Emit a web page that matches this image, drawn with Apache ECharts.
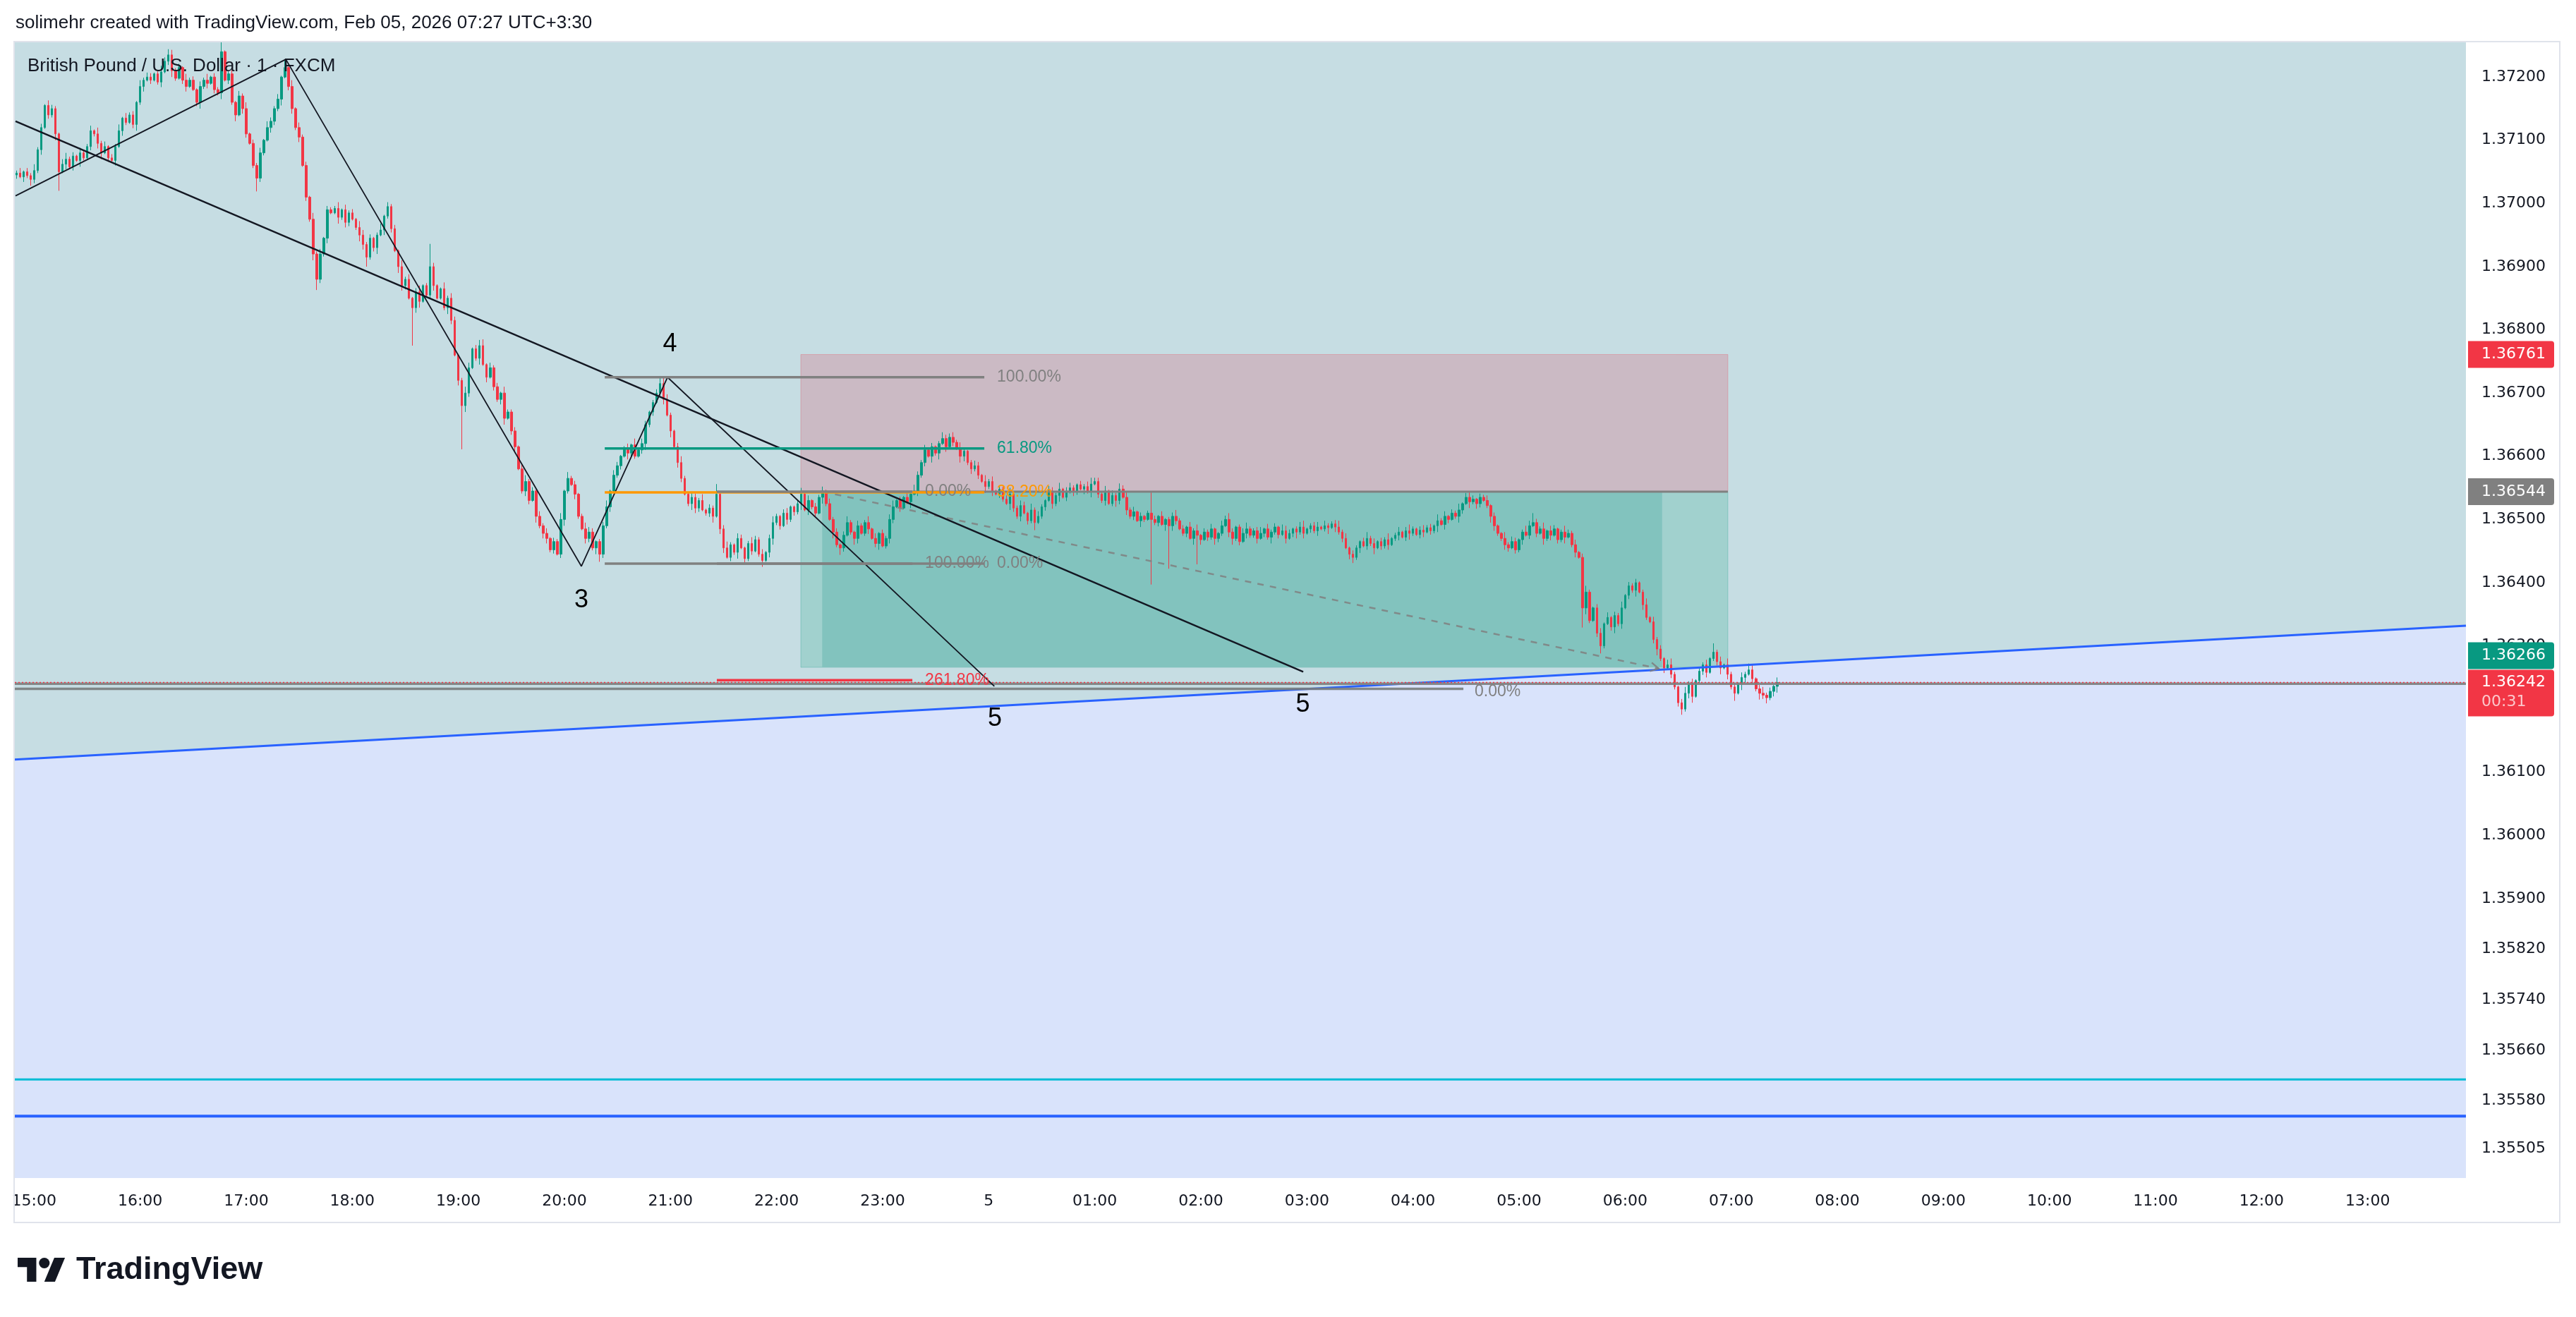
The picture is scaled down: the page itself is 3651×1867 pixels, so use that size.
<!DOCTYPE html>
<html>
<head>
<meta charset="utf-8">
<title>GBPUSD 1m</title>
<script src="https://cdn.jsdelivr.net/npm/echarts@6/dist/echarts.min.js"></script>
<style>
html,body{margin:0;padding:0;background:#ffffff;}
#chart{width:3651px;height:1867px;}
</style>
</head>
<body>
<div id="chart"></div>
<script>
// ================= DATA =================
// time: minutes after Feb 4 15:00 (UTC+3:30); candle prices in 0.00001 above 1.36000
const priceBase = 1.36;
const priceUnit = 0.00001;
const candleStartMinute = -10;
const candleStepMinutes = 2;
const firstOpen = 1045;
const closes = [
1048,1042,1050,1044,1038,1052,1085,1120,1155,1140,
1150,1110,1050,1062,1070,1058,1075,1068,1080,1072,
1090,1115,1110,1095,1080,1090,1072,1068,1090,1115,
1135,1128,1140,1125,1160,1185,1195,1200,1195,1205,
1192,1208,1225,1235,1210,1198,1215,1195,1185,1195,
1180,1160,1185,1195,1190,1200,1180,1175,1240,1195,
1205,1160,1140,1170,1150,1110,1095,1060,1040,1080,
1100,1120,1130,1150,1165,1200,1215,1185,1150,1120,
1105,1060,1010,975,920,880,920,945,990,985,
992,978,990,970,985,975,962,950,935,915,
945,930,950,958,980,995,960,925,900,870,
880,850,835,860,845,870,855,900,870,850,
865,835,850,815,760,720,680,700,740,770,
755,775,745,725,740,710,690,700,660,670,
640,615,580,545,560,530,545,505,490,478,
470,452,465,445,500,545,565,555,540,505,
485,470,480,455,465,445,490,520,545,570,
585,600,612,605,618,600,610,620,650,670,
685,700,715,690,665,640,615,590,565,540,
525,535,518,530,515,510,518,505,540,485,
455,440,460,448,470,455,438,462,450,468,
445,435,448,470,495,505,490,510,500,520,
512,525,540,515,530,520,510,535,545,525,
500,480,460,455,475,495,480,470,490,478,
495,485,470,462,478,458,470,500,520,530,
518,535,528,540,545,570,590,610,600,615,
605,620,628,615,630,622,612,600,608,590,
580,585,570,560,552,560,545,540,548,532,
525,540,518,505,522,510,498,515,495,505,
520,530,545,525,538,548,535,545,550,545,
555,548,552,545,556,560,540,530,545,525,
538,530,548,535,515,505,512,498,505,500,
510,500,495,505,492,500,490,505,498,485,
478,488,470,482,475,468,480,472,485,470,
478,490,500,480,470,488,465,478,485,475,
482,470,478,485,472,480,488,476,482,470,
478,485,480,488,478,485,490,482,488,485,
490,487,493,488,480,470,455,445,440,455,
465,458,470,462,455,465,458,468,460,470,
475,480,472,482,478,485,476,483,480,487,
482,490,498,492,505,500,510,505,515,525,
535,528,532,525,535,530,522,505,490,478,
470,460,455,465,452,468,480,475,490,495,
478,485,470,482,475,485,468,480,472,478,
460,448,440,360,385,340,360,320,300,335,
345,330,348,335,360,380,395,388,400,385,
365,345,338,310,295,280,265,270,255,235,
210,200,225,240,220,245,260,270,258,280,
290,275,265,270,255,235,225,240,250,255,
262,248,232,225,222,218,228,236,242
];
// one digit per candle: wick length in steps of 0.00002
const wickUp = "2413252314 3214523142 2315241325 1423152431 2531423152 3142513241 2314251324 1532413251 4231524132 2514231542 3125142315 2413512431 1524312541 3251423152 2314523142 4132514231 2543123514 3124152431 2315421352 1432513241 3521431253 2413521341 1352413251 4231352142 2514132451 3142532413 1253142531 2431524132 3512431524 2143251342 1324513241 4213524131 2531412352 3142513241 1425312452 2351423154 3124512341 4213524132 1352413251 2413521342 3152413251 2431524131 1524312542 3251431253 2413521341 4132513241 2514231452 1352413241 3241523142 241352314";
const wickDown = "3142532413 2531423152 1324513241 4213524131 2413521341 1352413251 3251431253 2143251342 4132513241 1524312542 2351423154 3124512341 1253142531 2514132451 3512431524 4231352142 1432513241 2315421352 3124152431 2543123514 4132514231 2314523142 3251423152 1524312541 2413512431 3125142315 2514231542 4231524132 1532413251 2314251324 3142513241 2531423152 1423152431 2315241325 3214523142 2413252314 1352413241 2514231452 4132513241 2413521341 3251431253 1524312542 2431524131 3152413251 2413521342 1352413251 4213524132 3124512341 2351423154 142531245";
// [minute, high, low] for long wicks
const spikes = [
[14,null,1020],[32,1123,null],[64,1207,null],[76,1244,null],[106,1255,null],[126,null,1019],
[142,1228,null],[160,null,863],[188,null,900],[200,1002,null],[214,null,775],[224,936,null],
[242,null,611],[252,784,null],[302,575,null],[320,null,433],[354,727,null],[386,556,null],
[412,null,425],[446,552,null],[456,null,444],[518,636,null],[566,null,483],[600,566,null],
[614,557,null],[632,544,397],[642,null,422],[658,null,429],[674,506,null],[734,497,null],
[746,null,431],[810,542,null],[818,541,null],[838,null,446],[848,510,null],[876,null,329],
[886,null,288],[906,406,null],[932,null,191],[950,304,null],[962,null,213],[970,272,null],
[980,null,209]
];

const timeTicks = [0,60,120,180,240,300,360,420,480,540,600,660,720,780,840,900,960,1020,1080,1140,1200,1260,1320];
const timeLabels = ['15:00','16:00','17:00','18:00','19:00','20:00','21:00','22:00','23:00','5','01:00','02:00','03:00','04:00','05:00','06:00','07:00','08:00','09:00','10:00','11:00','12:00','13:00'];
const priceTicks = [1.372,1.371,1.370,1.369,1.368,1.367,1.366,1.365,1.364,1.363,1.362,1.361,1.360,1.359,1.3582,1.3574,1.3566,1.3558,1.35505];

const xRange = [-10.9, 1375.6];
const yRange = [1.35458, 1.37256];

// drawings (minute, price)
const zigzag = [[-10.5,1.37012],[142.4,1.37228],[309.6,1.36426],[358.3,1.36725],[543.2,1.36236]];
const trendDown = [[-10.5,1.37130],[717.9,1.36259]];
const trendUp = [[-10.9,1.36120],[1375.6,1.36332]];
const cyanLevel = 1.35614;
const blueLevel = 1.35556;
const grayLevel = 1.36240;
const lastPrice = 1.36242;
const countdown = '00:31';
const positionTimes = [433.7, 958.1];
const tradeTimes = [445.8, 920.9];
const stopPrice = 1.36761, entryPrice = 1.36544, targetPrice = 1.36266;
const tradePath = [[446, 1.36544], [919, 1.36264]];
const fib1Times = [322.8, 537.5], fib1Prices = [1.36430, 1.36725], fib1Levels = [1, 0.618, 0.382, 0];
const fib2Times = [386.2, 496.8], fib2Prices = [1.36544, 1.36430], fib2Levels = [0, 1, 2.618];
const fib3Times = [-10.9, 808.5], fib3Price = 1.36232;
const waveLabels = [['4',359.7,1.36777],['3',309.6,1.36372],['5',543.5,1.36184],['5',717.7,1.36207]];

// ================= BUILD =================
const P = u => +(priceBase + u * priceUnit).toFixed(5);
const wu = wickUp.replace(/\s/g,''), wd = wickDown.replace(/\s/g,'');
const spikeMap = {}; spikes.forEach(s => { spikeMap[s[0]] = s; });
const candles = closes.map((c, i) => {
  const t = candleStartMinute + i * candleStepMinutes;
  const o = i === 0 ? firstOpen : closes[i - 1];
  let h = Math.max(o, c) + 2 * (+wu[i] || 0);
  let l = Math.min(o, c) - 2 * (+wd[i] || 0);
  const s = spikeMap[t];
  if (s) {
    if (s[1] != null) h = Math.max(s[1], o, c);
    if (s[2] != null) l = Math.min(s[2], o, c);
  }
  return [t, P(o), P(c), P(l), P(h)];
});

const GRAY = '#808080', TEAL = '#089981', RED = '#f23645', ORANGE = '#ff9800', BLUE = '#2962ff', CYAN = '#00bcd4';
const LBL_FONT = '"Liberation Sans", Arial, sans-serif';
const AX_FONT = '"DejaVu Sans", Verdana, sans-serif';

function lineSeries(data, color, width, type, z) {
  return { type: 'line', data: data, symbol: 'none', silent: true, animation: false, z: z || 4,
    lineStyle: { color: color, width: width, type: type || 'solid' } };
}
function fibLineColor(r) {
  if (r === 0.618) return TEAL;
  if (r === 0.382) return ORANGE;
  if (r === 2.618) return RED;
  return GRAY;
}
const fibLevelPrice = (prices, r) => prices[0] + r * (prices[1] - prices[0]);

const series = [];
// background fills split by the rising trend line
series.push({
  type: 'custom', z: 1, silent: true, animation: false, clip: false, data: [[0, 1.365]],
  renderItem: function (params, api) {
    const c = p => api.coord(p);
    const above = [[xRange[0], yRange[1]], [xRange[1], yRange[1]], trendUp[1], trendUp[0]].map(c);
    const below = [trendUp[0], trendUp[1], [xRange[1], yRange[0]], [xRange[0], yRange[0]]].map(c);
    return { type: 'group', children: [
      { type: 'polygon', shape: { points: above }, style: { fill: '#c6dde3' } },
      { type: 'polygon', shape: { points: below }, style: { fill: '#d9e3fb' } }
    ] };
  }
});
// short position tool
series.push({
  type: 'custom', z: 2, silent: true, animation: false, clip: false, data: [[0, 1.365]],
  renderItem: function (params, api) {
    const R = (t0, t1, p0, p1, fill, stroke) => {
      const a = api.coord([t0, p1]), b = api.coord([t1, p0]);
      return { type: 'rect', shape: { x: a[0], y: a[1], width: b[0] - a[0], height: b[1] - a[1] },
        style: { fill: fill, stroke: stroke || null, lineWidth: 1 } };
    };
    return { type: 'group', children: [
      R(positionTimes[0], positionTimes[1], entryPrice, stopPrice, '#cbbac4', 'rgba(242,54,69,0.25)'),
      R(positionTimes[0], positionTimes[1], targetPrice, entryPrice, '#a1d1ce', 'rgba(8,153,129,0.25)'),
      R(tradeTimes[0], tradeTimes[1], targetPrice, entryPrice, '#82c3be')
    ] };
  }
});
// candles
series.push({
  type: 'candlestick', z: 3, silent: true, animation: false, data: candles,
  encode: { x: 0, y: [1, 2, 3, 4] }, barWidth: 3,
  itemStyle: { color: TEAL, color0: RED, borderColor: TEAL, borderColor0: RED, borderWidth: 1 }
});
// lines
series.push(lineSeries(trendUp, BLUE, 3));
series.push(lineSeries([[xRange[0], cyanLevel], [xRange[1], cyanLevel]], CYAN, 3));
series.push(lineSeries([[xRange[0], blueLevel], [xRange[1], blueLevel]], BLUE, 4));
series.push(lineSeries([[fib3Times[0], fib3Price], [fib3Times[1], fib3Price]], 'rgba(120,124,124,0.9)', 3.5));
series.push(lineSeries([[xRange[0], grayLevel], [xRange[1], grayLevel]], 'rgba(125,128,128,0.92)', 3.5));
series.push(lineSeries([[xRange[0], lastPrice], [xRange[1], lastPrice]], RED, 1.5, [2, 3]));
series.push(lineSeries([[positionTimes[0], entryPrice], [positionTimes[1], entryPrice]], GRAY, 3));
series.push(lineSeries(tradePath, 'rgba(128,128,128,0.85)', 2.5, [9, 9]));
series.push(lineSeries(trendDown, '#131722', 2.4));
series.push(lineSeries(zigzag, '#131722', 1.8));
fib1Levels.forEach(r => {
  const p = fibLevelPrice(fib1Prices, r);
  series.push(lineSeries([[fib1Times[0], p], [fib1Times[1], p]], fibLineColor(r), 3.5, 'solid', 5));
});
fib2Levels.forEach(r => {
  const p = fibLevelPrice(fib2Prices, r);
  series.push(lineSeries([[fib2Times[0], p], [fib2Times[1], p]], fibLineColor(r), 3.5, 'solid', 5));
});
// texts & arrow
series.push({
  type: 'custom', z: 6, silent: true, animation: false, clip: false, data: [[0, 1.365]],
  renderItem: function (params, api) {
    const kids = [];
    const txt = (s, x, y, color, size, align) => kids.push({ type: 'text', x: x, y: y,
      style: { text: s, fill: color, font: size + 'px ' + LBL_FONT, align: align || 'left', verticalAlign: 'middle' } });
    const fmt = r => (r * 100).toFixed(2) + '%';
    fib1Levels.forEach(r => {
      const pt = api.coord([fib1Times[1], fibLevelPrice(fib1Prices, r)]);
      txt(fmt(r), pt[0] + 18, pt[1], fibLineColor(r), 23);
    });
    fib2Levels.forEach(r => {
      const pt = api.coord([fib2Times[1], fibLevelPrice(fib2Prices, r)]);
      txt(fmt(r), pt[0] + 18, pt[1], fibLineColor(r), 23);
    });
    const p3 = api.coord([fib3Times[1], fib3Price]);
    txt(fmt(0), p3[0] + 16, p3[1] + 4, GRAY, 23);
    waveLabels.forEach(w => {
      const pt = api.coord([w[1], w[2]]);
      txt(w[0], pt[0], pt[1], '#000000', 36, 'center');
    });
    // arrow head of trade path
    const a = api.coord(tradePath[0]), b = api.coord(tradePath[1]);
    const ang = Math.atan2(b[1] - a[1], b[0] - a[0]);
    const L = 13;
    kids.push({ type: 'polyline', shape: { points: [
      [b[0] - L * Math.cos(ang - 0.5), b[1] - L * Math.sin(ang - 0.5)], b,
      [b[0] - L * Math.cos(ang + 0.5), b[1] - L * Math.sin(ang + 0.5)] ] },
      style: { stroke: 'rgba(128,128,128,0.9)', lineWidth: 2.2, fill: null } });
    return { type: 'group', children: kids };
  }
});
// price badges on the scale
series.push({
  type: 'custom', z: 7, silent: true, animation: false, clip: false, data: [[0, 1.365]],
  renderItem: function (params, api) {
    const cs = params.coordSys;
    const bx = cs.x + cs.width + 3, bw = 122, bh = 38;
    const kids = [];
    const badge = (top, h, fill) => kids.push({ type: 'rect', shape: { x: bx, y: top, width: bw, height: h, r: [0, 4, 4, 0] }, style: { fill: fill } });
    const label = (s, y, color) => kids.push({ type: 'text', x: bx + 19, y: y,
      style: { text: s, fill: color, font: '22px ' + AX_FONT, align: 'left', verticalAlign: 'middle' } });
    const yStop = api.coord([0, stopPrice])[1];
    const yEntry = api.coord([0, entryPrice])[1];
    const yTarget = api.coord([0, targetPrice])[1];
    const yLast = api.coord([0, lastPrice])[1];
    badge(yStop - bh / 2, bh, RED); label(stopPrice.toFixed(5), yStop, '#ffffff');
    badge(yEntry - bh / 2, bh, '#808080'); label(entryPrice.toFixed(5), yEntry, '#ffffff');
    const lastTop = yLast - 18;
    const tTop = Math.min(yTarget - bh / 2, lastTop - bh - 1);
    badge(tTop, bh, TEAL); label(targetPrice.toFixed(5), tTop + bh / 2, '#ffffff');
    badge(lastTop, 66, RED); label(lastPrice.toFixed(5), yLast, '#ffffff');
    label(countdown, yLast + 28, 'rgba(255,255,255,0.72)');
    return { type: 'group', children: kids };
  }
});

// TradingView logo pieces (pixel layout)
const k = 1.89, ox = 25, oy = 1775.4;
const sc = pts => pts.map(p => [ox + p[0] * k, oy + p[1] * k]);

const option = {
  backgroundColor: '#ffffff',
  animation: false,
  textStyle: { fontFamily: AX_FONT },
  grid: { left: 21, top: 59, width: 3474, height: 1611, show: false },
  xAxis: {
    type: 'value', min: xRange[0], max: xRange[1],
    axisLine: { show: false }, axisTick: { show: false }, splitLine: { show: false },
    axisLabel: {
      customValues: timeTicks, fontFamily: AX_FONT, fontSize: 22, color: '#131722', margin: 22,
      formatter: v => { const i = timeTicks.indexOf(Math.round(v)); return i >= 0 ? timeLabels[i] : ''; }
    }
  },
  yAxis: {
    type: 'value', position: 'right', min: yRange[0], max: yRange[1], scale: true,
    axisLine: { show: false }, axisTick: { show: false }, splitLine: { show: false },
    axisLabel: {
      customValues: priceTicks, fontFamily: AX_FONT, fontSize: 22, color: '#131722', margin: 22,
      formatter: v => v.toFixed(5)
    }
  },
  graphic: [
    { type: 'rect', silent: true, z: 100, shape: { x: 20, y: 59, width: 3608, height: 1674 },
      style: { fill: null, stroke: '#e0e3eb', lineWidth: 2 } },
    { type: 'text', x: 22, y: 33, silent: true, z: 100,
      style: { text: 'solimehr created with TradingView.com, Feb 05, 2026 07:27 UTC+3:30', font: '26px ' + LBL_FONT, fill: '#131722', verticalAlign: 'middle' } },
    { type: 'text', x: 39, y: 94, silent: true, z: 100,
      style: { text: 'British Pound / U.S. Dollar · 1 · FXCM', font: '26px ' + LBL_FONT, fill: '#131722', verticalAlign: 'middle' } },
    { type: 'polygon', silent: true, z: 100, shape: { points: sc([[0,4],[14,4],[14,22],[7,22],[7,11],[0,11]]) }, style: { fill: '#131722' } },
    { type: 'circle', silent: true, z: 100, shape: { cx: ox + 20 * k, cy: oy + 8 * k, r: 4 * k }, style: { fill: '#131722' } },
    { type: 'polygon', silent: true, z: 100, shape: { points: sc([[20,22],[27.5,4],[35.5,4],[28,22]]) }, style: { fill: '#131722' } },
    { type: 'text', x: 108, y: 1801, silent: true, z: 100,
      style: { text: 'TradingView', font: 'bold 45px ' + LBL_FONT, fill: '#131722', verticalAlign: 'middle' } }
  ],
  series: series
};

const chart = echarts.init(document.getElementById('chart'), null, { renderer: 'canvas', width: 3651, height: 1867 });
chart.setOption(option);
</script>
</body>
</html>
